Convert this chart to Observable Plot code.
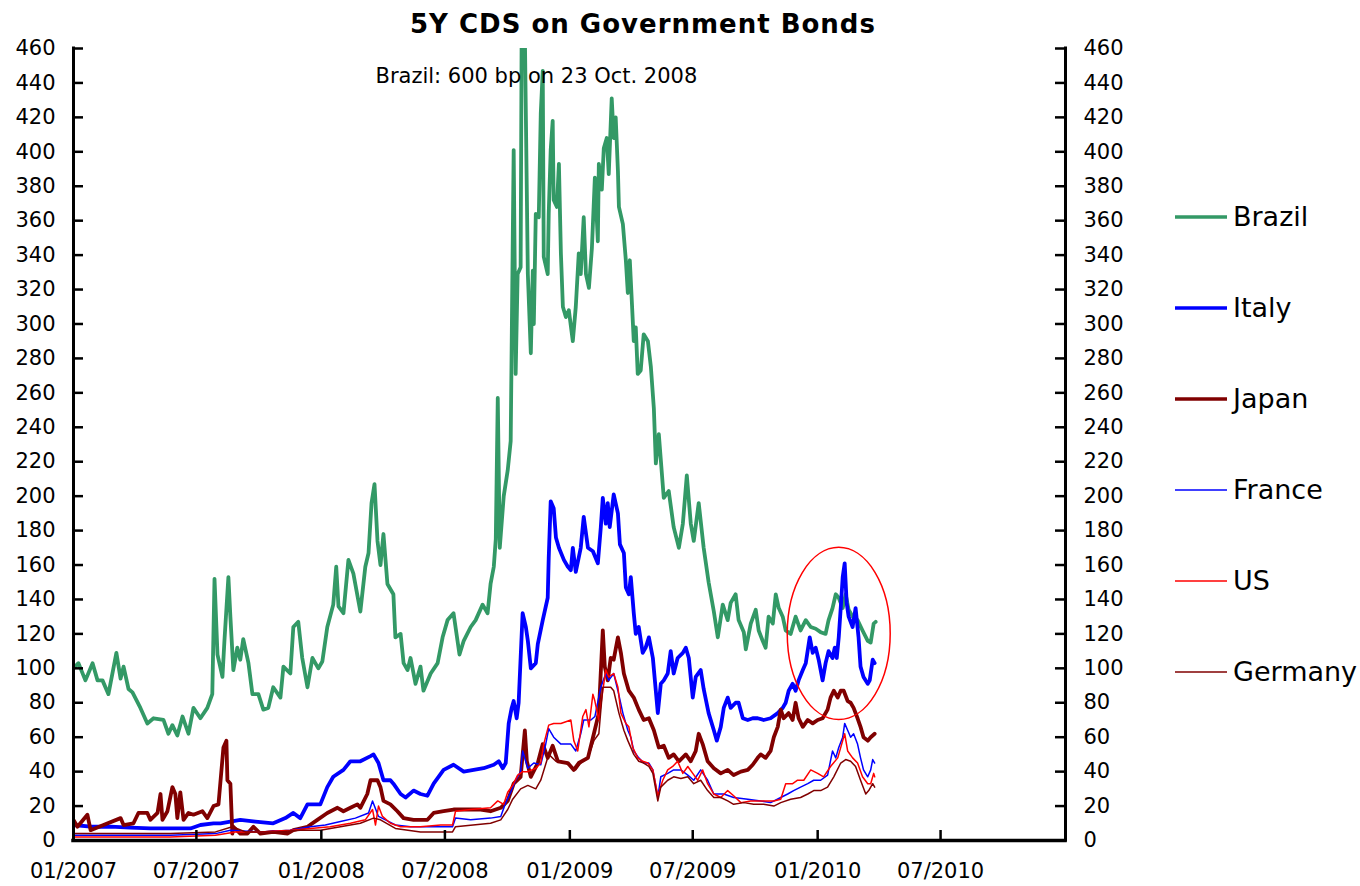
<!DOCTYPE html>
<html><head><meta charset="utf-8">
<script src="https://cdn.jsdelivr.net/npm/d3@7"></script>
<script src="https://cdn.jsdelivr.net/npm/@observablehq/plot@0.6"></script>
<style>
html,body{margin:0;padding:0;background:#fff;}
#chart{width:1360px;height:886px;}
</style></head><body><div id="chart"></div>
<script>
// Time is given as decimal years, values in basis points
const brazil = [[2007.000,100],[2007.020,103],[2007.048,93],[2007.077,103],[2007.097,93],[2007.117,93],[2007.141,85],[2007.173,109],[2007.190,94],[2007.202,101],[2007.222,88],[2007.238,86],[2007.270,77],[2007.298,68],[2007.323,71],[2007.363,70],[2007.383,62],[2007.399,67],[2007.419,61],[2007.440,72],[2007.464,62],[2007.484,77],[2007.512,71],[2007.540,77],[2007.560,85],[2007.569,152],[2007.581,108],[2007.601,95],[2007.609,116],[2007.625,153],[2007.633,130],[2007.645,99],[2007.661,112],[2007.673,105],[2007.685,117],[2007.706,103],[2007.722,85],[2007.746,85],[2007.766,76],[2007.786,77],[2007.806,89],[2007.835,83],[2007.847,101],[2007.875,97],[2007.887,124],[2007.907,127],[2007.923,106],[2007.944,89],[2007.964,106],[2007.988,100],[2008.004,104],[2008.024,124],[2008.048,137],[2008.060,159],[2008.069,136],[2008.089,132],[2008.109,163],[2008.129,155],[2008.157,133],[2008.177,159],[2008.190,167],[2008.202,196],[2008.214,207],[2008.226,174],[2008.238,160],[2008.250,178],[2008.266,149],[2008.290,143],[2008.298,118],[2008.319,120],[2008.331,103],[2008.347,99],[2008.359,106],[2008.379,91],[2008.399,101],[2008.411,87],[2008.440,97],[2008.468,103],[2008.488,118],[2008.508,128],[2008.532,132],[2008.556,108],[2008.573,116],[2008.601,124],[2008.621,128],[2008.649,137],[2008.669,132],[2008.681,149],[2008.694,159],[2008.702,175],[2008.710,257],[2008.718,170],[2008.734,200],[2008.750,215],[2008.762,232],[2008.774,401],[2008.782,271],[2008.790,329],[2008.802,333],[2008.810,600],[2008.818,480],[2008.831,329],[2008.843,283],[2008.851,331],[2008.855,300],[2008.863,364],[2008.875,362],[2008.883,422],[2008.891,447],[2008.895,339],[2008.911,329],[2008.915,364],[2008.923,401],[2008.931,418],[2008.935,372],[2008.948,368],[2008.956,393],[2008.964,341],[2008.972,310],[2008.984,304],[2008.996,308],[2009.012,290],[2009.024,310],[2009.036,341],[2009.044,329],[2009.056,362],[2009.065,329],[2009.077,321],[2009.089,344],[2009.101,385],[2009.113,348],[2009.117,393],[2009.129,378],[2009.137,402],[2009.149,408],[2009.157,387],[2009.169,431],[2009.177,408],[2009.185,420],[2009.194,389],[2009.198,368],[2009.214,358],[2009.226,337],[2009.234,318],[2009.242,337],[2009.258,290],[2009.266,298],[2009.274,271],[2009.286,273],[2009.298,294],[2009.315,290],[2009.327,275],[2009.339,251],[2009.347,219],[2009.359,236],[2009.379,199],[2009.399,203],[2009.419,182],[2009.440,170],[2009.456,184],[2009.472,212],[2009.488,184],[2009.500,174],[2009.520,196],[2009.540,170],[2009.560,150],[2009.581,133],[2009.597,118],[2009.617,137],[2009.637,128],[2009.649,138],[2009.669,143],[2009.681,128],[2009.702,121],[2009.710,111],[2009.730,126],[2009.750,134],[2009.762,122],[2009.778,116],[2009.790,112],[2009.802,130],[2009.819,126],[2009.831,143],[2009.843,135],[2009.859,130],[2009.871,122],[2009.891,120],[2009.911,130],[2009.931,122],[2009.952,128],[2009.972,124],[2009.992,123],[2010.012,121],[2010.032,120],[2010.044,128],[2010.060,135],[2010.073,143],[2010.085,141],[2010.101,135],[2010.113,143],[2010.125,134],[2010.141,130],[2010.161,128],[2010.181,122],[2010.202,116],[2010.214,115],[2010.226,126],[2010.234,127]];

const italy = [[2007.000,9],[2007.069,8],[2007.149,8],[2007.230,7.5],[2007.310,7],[2007.391,7],[2007.472,7],[2007.512,9],[2007.565,10],[2007.593,10],[2007.673,12],[2007.734,11],[2007.806,10],[2007.855,13],[2007.887,16],[2007.915,13],[2007.944,21],[2007.996,21],[2008.024,31],[2008.048,37],[2008.089,41],[2008.117,46],[2008.157,46],[2008.198,49],[2008.210,50],[2008.230,45],[2008.250,35],[2008.278,35],[2008.290,33],[2008.319,27],[2008.339,25],[2008.371,29],[2008.399,27],[2008.427,26],[2008.452,33],[2008.492,41],[2008.532,44],[2008.573,40],[2008.613,41],[2008.653,42],[2008.694,44],[2008.714,46],[2008.730,42],[2008.742,45],[2008.754,68],[2008.766,77],[2008.774,81],[2008.786,71],[2008.794,80],[2008.810,132],[2008.823,124],[2008.831,116],[2008.843,100],[2008.863,103],[2008.871,114],[2008.891,128],[2008.911,141],[2008.915,164],[2008.923,197],[2008.935,193],[2008.944,176],[2008.956,170],[2008.976,163],[2008.992,159],[2009.004,157],[2009.012,170],[2009.024,156],[2009.044,170],[2009.056,188],[2009.073,170],[2009.093,168],[2009.113,161],[2009.125,182],[2009.133,199],[2009.145,184],[2009.153,196],[2009.161,182],[2009.177,201],[2009.194,190],[2009.202,172],[2009.218,167],[2009.226,147],[2009.238,143],[2009.246,153],[2009.258,132],[2009.266,120],[2009.278,124],[2009.294,109],[2009.306,112],[2009.319,118],[2009.335,106],[2009.355,74],[2009.367,91],[2009.379,93],[2009.395,97],[2009.407,110],[2009.419,97],[2009.435,106],[2009.456,109],[2009.468,112],[2009.480,106],[2009.496,83],[2009.508,95],[2009.528,99],[2009.540,88],[2009.560,74],[2009.581,64],[2009.593,58],[2009.609,66],[2009.621,77],[2009.637,83],[2009.649,77],[2009.669,80],[2009.681,80],[2009.698,71],[2009.718,70],[2009.738,71],[2009.758,71],[2009.782,70],[2009.810,71],[2009.839,74],[2009.859,77],[2009.871,80],[2009.883,87],[2009.899,91],[2009.911,87],[2009.923,93],[2009.940,99],[2009.952,103],[2009.968,118],[2009.980,109],[2009.992,112],[2010.004,105],[2010.020,93],[2010.032,103],[2010.044,110],[2010.060,106],[2010.069,112],[2010.077,106],[2010.085,118],[2010.093,135],[2010.101,153],[2010.109,161],[2010.117,138],[2010.125,130],[2010.141,124],[2010.153,135],[2010.165,118],[2010.173,101],[2010.185,95],[2010.202,91],[2010.210,93],[2010.222,105],[2010.230,103]];

const japan = [[2007.000,12],[2007.016,8],[2007.056,15],[2007.069,6],[2007.121,9],[2007.190,13],[2007.202,9],[2007.242,10],[2007.262,16],[2007.298,16],[2007.310,12],[2007.339,16],[2007.351,27],[2007.359,12],[2007.379,17],[2007.399,31],[2007.411,27],[2007.419,13],[2007.431,28],[2007.444,12],[2007.464,16],[2007.484,15],[2007.520,17],[2007.540,13],[2007.565,20],[2007.585,21],[2007.605,54],[2007.617,58],[2007.621,35],[2007.633,33],[2007.641,4],[2007.645,8],[2007.673,4],[2007.702,4],[2007.726,8],[2007.754,4],[2007.806,5],[2007.863,4],[2007.887,6],[2007.944,8],[2007.984,12],[2008.024,16],[2008.065,19],[2008.089,17],[2008.117,19],[2008.145,21],[2008.157,19],[2008.185,27],[2008.198,35],[2008.226,35],[2008.238,31],[2008.250,23],[2008.278,21],[2008.306,17],[2008.331,13],[2008.371,12],[2008.427,12],[2008.452,16],[2008.492,17],[2008.532,18],[2008.589,18],[2008.641,18],[2008.681,17],[2008.722,19],[2008.750,23],[2008.774,33],[2008.802,37],[2008.819,64],[2008.827,46],[2008.843,37],[2008.871,45],[2008.891,56],[2008.911,48],[2008.931,55],[2008.952,46],[2008.992,45],[2009.016,41],[2009.036,45],[2009.073,48],[2009.097,62],[2009.117,74],[2009.133,122],[2009.141,101],[2009.153,93],[2009.165,106],[2009.177,105],[2009.194,118],[2009.206,109],[2009.218,97],[2009.238,87],[2009.258,83],[2009.278,76],[2009.298,70],[2009.319,71],[2009.339,64],[2009.359,54],[2009.379,55],[2009.399,48],[2009.419,50],[2009.440,46],[2009.468,50],[2009.488,46],[2009.508,52],[2009.520,62],[2009.536,56],[2009.556,46],[2009.581,42],[2009.609,39],[2009.637,41],[2009.661,38],[2009.690,40],[2009.718,41],[2009.738,44],[2009.758,48],[2009.770,50],[2009.790,48],[2009.810,52],[2009.823,60],[2009.839,66],[2009.851,76],[2009.863,71],[2009.883,74],[2009.899,70],[2009.911,80],[2009.923,71],[2009.940,66],[2009.960,70],[2009.980,68],[2010.000,70],[2010.020,71],[2010.040,76],[2010.052,83],[2010.065,87],[2010.081,83],[2010.093,87],[2010.105,87],[2010.121,81],[2010.133,80],[2010.145,77],[2010.161,71],[2010.173,66],[2010.185,60],[2010.202,58],[2010.214,60],[2010.230,62]];

const france = [[2007.000,3],[2007.190,3],[2007.391,3],[2007.573,4],[2007.633,6],[2007.754,5],[2007.875,6],[2007.956,8],[2008.016,9],[2008.077,11],[2008.137,13],[2008.190,16],[2008.206,23],[2008.230,14],[2008.258,12],[2008.298,9],[2008.359,8],[2008.440,8],[2008.528,8],[2008.540,13],[2008.601,12],[2008.681,13],[2008.722,14],[2008.742,22],[2008.762,28],[2008.782,35],[2008.802,40],[2008.810,52],[2008.831,42],[2008.855,45],[2008.883,44],[2008.903,56],[2008.915,65],[2008.935,60],[2008.964,56],[2009.004,56],[2009.024,52],[2009.044,62],[2009.056,70],[2009.085,70],[2009.101,72],[2009.125,89],[2009.145,97],[2009.157,93],[2009.177,97],[2009.194,87],[2009.214,74],[2009.234,64],[2009.246,60],[2009.258,52],[2009.278,48],[2009.298,45],[2009.319,45],[2009.335,41],[2009.355,25],[2009.367,37],[2009.395,39],[2009.419,41],[2009.448,41],[2009.476,38],[2009.500,35],[2009.528,41],[2009.556,35],[2009.581,27],[2009.621,27],[2009.661,25],[2009.718,24],[2009.770,23],[2009.810,22],[2009.851,25],[2009.879,27],[2009.903,29],[2009.931,31],[2009.960,33],[2009.984,35],[2010.012,35],[2010.040,38],[2010.060,52],[2010.073,48],[2010.085,54],[2010.101,60],[2010.109,68],[2010.121,64],[2010.133,60],[2010.145,62],[2010.161,56],[2010.173,48],[2010.185,41],[2010.202,37],[2010.214,41],[2010.222,47],[2010.230,45]];

const us = [[2007.000,2],[2007.190,2],[2007.391,2],[2007.573,3],[2007.653,5],[2007.754,5],[2007.875,6],[2007.956,7],[2008.036,8],[2008.117,10],[2008.177,12],[2008.206,18],[2008.218,9],[2008.230,20],[2008.246,14],[2008.278,10],[2008.319,8],[2008.399,8],[2008.480,9],[2008.528,9],[2008.540,17],[2008.601,18],[2008.681,19],[2008.710,23],[2008.734,21],[2008.750,28],[2008.770,32],[2008.790,38],[2008.810,40],[2008.831,40],[2008.863,42],[2008.883,45],[2008.895,56],[2008.915,67],[2008.935,68],[2008.964,68],[2009.004,70],[2009.016,58],[2009.032,52],[2009.052,72],[2009.065,76],[2009.077,66],[2009.093,85],[2009.101,81],[2009.117,70],[2009.133,87],[2009.145,99],[2009.157,95],[2009.177,97],[2009.194,89],[2009.206,74],[2009.226,68],[2009.238,66],[2009.254,54],[2009.274,48],[2009.294,46],[2009.315,45],[2009.335,41],[2009.355,26],[2009.375,35],[2009.395,41],[2009.415,43],[2009.435,46],[2009.456,39],[2009.476,43],[2009.496,39],[2009.516,35],[2009.536,41],[2009.556,33],[2009.581,27],[2009.609,25],[2009.637,29],[2009.661,26],[2009.690,22],[2009.730,23],[2009.770,23],[2009.823,23],[2009.851,24],[2009.871,33],[2009.899,33],[2009.919,35],[2009.944,35],[2009.972,41],[2010.000,39],[2010.024,37],[2010.052,43],[2010.081,48],[2010.101,58],[2010.109,62],[2010.121,52],[2010.141,48],[2010.161,45],[2010.181,37],[2010.202,33],[2010.214,33],[2010.226,39],[2010.230,37]];

const germany = [[2007.000,4],[2007.190,4],[2007.391,4],[2007.573,5],[2007.641,8],[2007.694,5],[2007.815,5],[2007.915,6],[2007.996,6],[2008.077,8],[2008.157,10],[2008.210,13],[2008.238,12],[2008.298,7],[2008.399,5],[2008.528,5],[2008.540,8],[2008.681,10],[2008.722,12],[2008.750,18],[2008.770,24],[2008.802,30],[2008.831,32],[2008.863,30],[2008.883,35],[2008.915,50],[2008.944,46],[2008.984,45],[2009.024,41],[2009.044,45],[2009.073,48],[2009.097,58],[2009.117,62],[2009.133,89],[2009.165,89],[2009.177,87],[2009.198,74],[2009.218,64],[2009.234,58],[2009.258,50],[2009.278,46],[2009.298,45],[2009.319,43],[2009.335,39],[2009.355,23],[2009.367,31],[2009.395,35],[2009.419,37],[2009.448,36],[2009.476,37],[2009.500,33],[2009.528,35],[2009.556,29],[2009.581,25],[2009.609,25],[2009.637,23],[2009.661,21],[2009.702,22],[2009.742,21],[2009.782,21],[2009.823,20],[2009.851,22],[2009.891,24],[2009.931,25],[2009.960,27],[2009.984,29],[2010.012,29],[2010.040,31],[2010.065,37],[2010.093,45],[2010.113,47],[2010.133,46],[2010.153,43],[2010.173,35],[2010.194,27],[2010.206,29],[2010.222,33],[2010.230,31]];

const seriesNames = ["Brazil", "Italy", "Japan", "France", "US", "Germany"];
const seriesValues = [brazil, italy, japan, france, us, germany];
const seriesColors = ["#339966", "#0000FF", "#800000", "#0000FF", "#FF0000", "#800000"];
const seriesWidths = [3.8, 3.8, 3.8, 1.5, 1.5, 1.5];

const yTicks = [0,20,40,60,80,100,120,140,160,180,200,220,240,260,280,300,320,340,360,380,400,420,440,460];
const xTickLabels = ["2007-01-01","2007-07-01","2008-01-01","2008-07-01","2009-01-01","2009-07-01","2010-01-01","2010-07-01"];
const xDomain = ["2007-01-01", "2011-01-01"];

const titleText = "5Y CDS on Government Bonds";
const note = {t: 2008.218, value: 440, text: "Brazil: 600 bp on 23 Oct. 2008"};
const ellipseNote = {t: 2010.087, value: 120, rt: 0.2077, rv: 50};

function toDate(t) {
  const y = Math.floor(t);
  const a = Date.UTC(y, 0, 1), b = Date.UTC(y + 1, 0, 1);
  return new Date(a + (t - y) * (b - a));
}
const rows = seriesNames.flatMap((name, i) => seriesValues[i].map(([t, v]) => ({name, date: toDate(t), value: v})));
const xTicks = xTickLabels.map(s => new Date(s + "T00:00:00Z"));
const xDom = xDomain.map(s => new Date(s + "T00:00:00Z"));

const W = 1360, H = 886, ML = 73, MR = 295, MT = 48, MB = 46;
const innerW = W - ML - MR, innerH = H - MT - MB;

const plot = Plot.plot({
  width: W, height: H,
  marginLeft: ML, marginRight: MR, marginTop: MT, marginBottom: MB,
  style: {fontFamily: "'DejaVu Sans', Verdana, sans-serif", fontSize: "21px", color: "#000", background: "#fff", overflow: "visible"},
  x: {type: "utc", domain: xDom, label: null},
  y: {domain: [0, 460], label: null},
  marks: [
    ...seriesNames.map((name, i) => Plot.line(rows.filter(d => d.name === name), {
      x: "date", y: "value", stroke: seriesColors[i], strokeWidth: seriesWidths[i],
      strokeLinejoin: "round", clip: true
    })),
    Plot.axisY(yTicks, {anchor: "left", tickSize: 0, tickPadding: 18, fontSize: 21, tickFormat: d => String(d)}),
    Plot.axisY(yTicks, {anchor: "right", tickSize: 0, tickPadding: 18, fontSize: 21, tickFormat: d => String(d)}),
    Plot.axisX(xTicks, {anchor: "bottom", tickSize: 0, tickPadding: 23, fontSize: 21, tickFormat: d3.utcFormat("%m/%Y")}),
    Plot.tickY(yTicks, {y: d => d, insetRight: innerW - 10, stroke: "#000", strokeWidth: 2.5}),
    Plot.tickY(yTicks, {y: d => d, insetLeft: innerW - 10, stroke: "#000", strokeWidth: 2.5}),
    Plot.tickX(xTicks, {x: d => d, insetTop: innerH - 10, stroke: "#000", strokeWidth: 2.5}),
    Plot.ruleX([xDom[0]], {stroke: "#000", strokeWidth: 3, strokeLinecap: "square"}),
    Plot.ruleX([xDom[1]], {stroke: "#000", strokeWidth: 3, strokeLinecap: "square"}),
    Plot.ruleY([0], {stroke: "#000", strokeWidth: 3.5, strokeLinecap: "square"}),
    Plot.text([note], {x: d => toDate(d.t), y: "value", text: "text", textAnchor: "start", lineAnchor: "bottom", fontSize: 21, fill: "#000"})
  ]
});

const svg = d3.select(plot);
const sx = plot.scale("x"), sy = plot.scale("y");

// Red ellipse annotation
const ecx = sx.apply(toDate(ellipseNote.t));
const erx = sx.apply(toDate(ellipseNote.t + ellipseNote.rt)) - ecx;
const ecy = sy.apply(ellipseNote.value);
const ery = sy.apply(ellipseNote.value - ellipseNote.rv) - ecy;
svg.append("ellipse").attr("cx", ecx).attr("cy", ecy).attr("rx", erx).attr("ry", ery)
  .attr("fill", "none").attr("stroke", "#FF0000").attr("stroke-width", 1.5);

// Title
svg.append("text").attr("x", 643).attr("y", 33).attr("text-anchor", "middle")
  .attr("font-size", 26).attr("font-weight", "bold").attr("letter-spacing", 1)
  .attr("fill", "#000").text(titleText);

// Legend
const lg = svg.append("g").attr("text-anchor", "start");
seriesNames.forEach((name, i) => {
  const y = 217 + i * 91;
  lg.append("line").attr("x1", 1175).attr("x2", 1227).attr("y1", y).attr("y2", y)
    .attr("stroke", seriesColors[i]).attr("stroke-width", seriesWidths[i] > 2 ? 3.5 : 1.5);
  lg.append("text").attr("x", 1233).attr("y", y).attr("dy", "0.35em").attr("text-anchor", "start")
    .attr("font-size", 27).attr("fill", "#000").text(name);
});

document.getElementById("chart").appendChild(plot);
</script>
</body></html>
